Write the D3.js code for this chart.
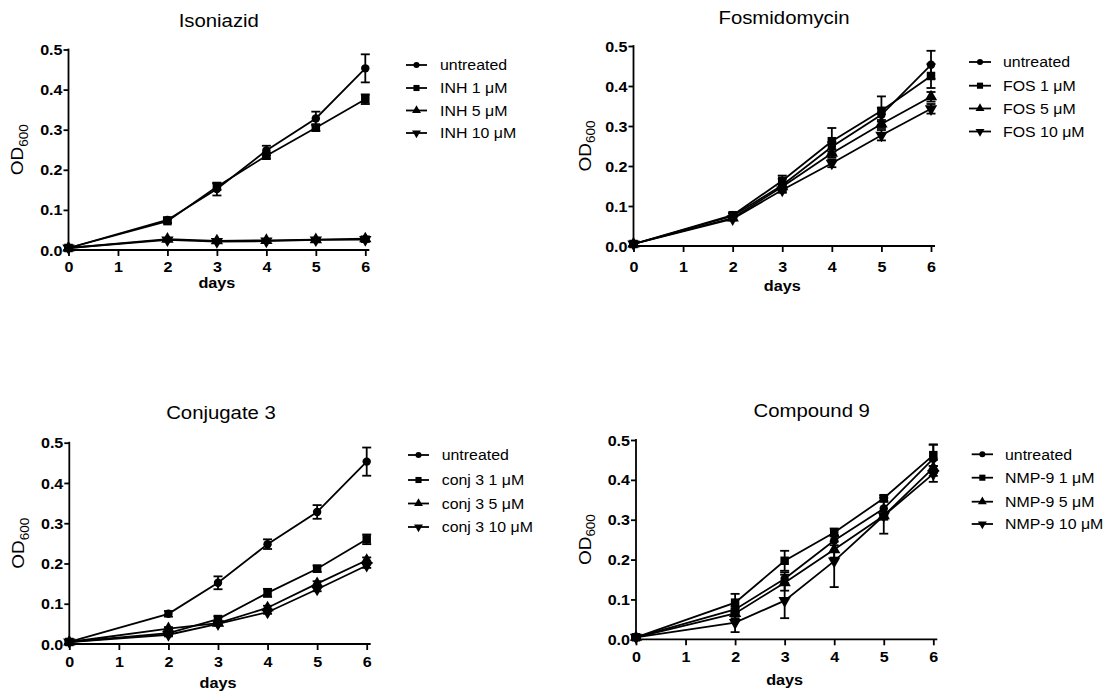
<!DOCTYPE html>
<html><head><meta charset="utf-8">
<script src="https://cdn.jsdelivr.net/npm/d3@7"></script>
<style>
body{margin:0;background:#fff}
svg{display:block}
text{font-family:"Liberation Sans",Arial,Helvetica,sans-serif;fill:#000}
</style>
</head><body>
<svg id="c" width="1113" height="693"></svg>
<script>
// ---------- data ----------
const days = [0, 2, 3, 4, 5, 6];
const xTicks = [0, 1, 2, 3, 4, 5, 6];
const yTicks = [0, 0.1, 0.2, 0.3, 0.4, 0.5];
const titles = ["Isoniazid", "Fosmidomycin", "Conjugate 3", "Compound 9"];
const xLabel = "days";

const untreated    = [0.005, 0.075, 0.152, 0.248, 0.328, 0.453];
const untreatedErr = [0.002, 0.007, 0.016, 0.012, 0.017, 0.035];

const inh1    = [0.005, 0.072, 0.158, 0.235, 0.305, 0.376];
const inh1Err = [0.002, 0.005, 0.008, 0.007, 0.008, 0.012];
const inh5    = [0.005, 0.027, 0.023, 0.024, 0.026, 0.028];
const inh5Err = [0.002, 0.003, 0.003, 0.003, 0.003, 0.006];
const inh10   = [0.005, 0.025, 0.021, 0.022, 0.025, 0.026];
const inh10Err= [0.002, 0.003, 0.003, 0.003, 0.003, 0.006];

const fos1    = [0.005, 0.077, 0.163, 0.262, 0.338, 0.425];
const fos1Err = [0.002, 0.005, 0.013, 0.033, 0.036, 0.030];
const fos5    = [0.005, 0.070, 0.148, 0.232, 0.305, 0.373];
const fos5Err = [0.002, 0.004, 0.008, 0.010, 0.010, 0.012];
const fos10   = [0.005, 0.068, 0.140, 0.207, 0.277, 0.343];
const fos10Err= [0.002, 0.004, 0.007, 0.010, 0.013, 0.012];

const conj1    = [0.005, 0.027, 0.062, 0.127, 0.187, 0.260];
const conj1Err = [0.002, 0.004, 0.007, 0.010, 0.008, 0.012];
const conj5    = [0.005, 0.038, 0.052, 0.090, 0.150, 0.208];
const conj5Err = [0.002, 0.004, 0.004, 0.005, 0.006, 0.007];
const conj10   = [0.005, 0.023, 0.050, 0.079, 0.136, 0.195];
const conj10Err= [0.002, 0.003, 0.004, 0.004, 0.005, 0.006];

const nmp1    = [0.005, 0.092, 0.197, 0.268, 0.354, 0.462];
const nmp1Err = [0.003, 0.022, 0.025, 0.010, 0.007, 0.027];
const nmp5    = [0.005, 0.065, 0.142, 0.225, 0.310, 0.430];
const nmp5Err = [0.002, 0.012, 0.020, 0.020, 0.010, 0.020];
const nmp10   = [0.005, 0.042, 0.097, 0.196, 0.310, 0.415];
const nmp10Err= [0.002, 0.024, 0.044, 0.065, 0.045, 0.020];

const legend1 = ["untreated", "INH 1 \u03bcM", "INH 5 \u03bcM", "INH 10 \u03bcM"];
const legend2 = ["untreated", "FOS 1 \u03bcM", "FOS 5 \u03bcM", "FOS 10 \u03bcM"];
const legend3 = ["untreated", "conj 3 1 \u03bcM", "conj 3 5 \u03bcM", "conj 3 10 \u03bcM"];
const legend4 = ["untreated", "NMP-9 1 \u03bcM", "NMP-9 5 \u03bcM", "NMP-9 10 \u03bcM"];

const markers = ["circle", "square", "triUp", "triDown"];

const panelSeries = [
  {vals:[untreated, inh1, inh5, inh10],   errs:[untreatedErr, inh1Err, inh5Err, inh10Err],   legend: legend1},
  {vals:[untreated, fos1, fos5, fos10],   errs:[untreatedErr, fos1Err, fos5Err, fos10Err],   legend: legend2},
  {vals:[untreated, conj1, conj5, conj10],errs:[untreatedErr, conj1Err, conj5Err, conj10Err],legend: legend3},
  {vals:[untreated, nmp1, nmp5, nmp10],   errs:[untreatedErr, nmp1Err, nmp5Err, nmp10Err],   legend: legend4}
];

// ---------- layout ----------
const layout = [
  {x0:68.5, x6:365.3, y0:250,   y5:49.5,  tx:218.8, ty:26.5,  tick:272, lab:287.5, odx:23,   lx1:406,   lx2:427, ltx:440,  rows:[65, 88, 110.5, 133]},
  {x0:633.5,x6:931,   y0:246,   y5:46,    tx:784,   ty:24,    tick:272, lab:291,   odx:590.5,lx1:969,   lx2:991, ltx:1003, rows:[62, 85.7, 108.5, 131.5]},
  {x0:69.3, x6:366.7, y0:644,   y5:442.7, tx:221,   ty:419,   tick:667, lab:687.5, odx:24,   lx1:408,   lx2:429, ltx:441.7,rows:[455, 480, 503.5, 527]},
  {x0:636,  x6:933.3, y0:639.3, y5:440,   tx:811.7, ty:416.7, tick:662, lab:684.5, odx:590.5,lx1:971.7, lx2:993, ltx:1005, rows:[454.3, 477.7, 501.7, 524]}
];

const svg = d3.select("#c");
const SW = 1.8;

function txt(parent, x, y, str, o) {
  const g = parent.append("g").attr("transform", `translate(${x},${y}) rotate(${o.rot || 0})`);
  return g.append("text")
    .attr("transform", `scale(${o.sx || 1},1)`)
    .attr("text-anchor", o.anchor || "start")
    .style("font-size", o.size + "px")
    .style("font-weight", o.weight || "normal")
    .text(str);
}

function symPath(type, big) {
  const s = big ? 1 : 0.72;
  if (type === "circle") return d3.symbol(d3.symbolCircle, 56 * s * s)();
  if (type === "square") return d3.symbol(d3.symbolSquare, 72 * s * s)();
  return d3.symbol(d3.symbolTriangle, 66 * s * s)();
}

layout.forEach((L, pi) => {
  const P = panelSeries[pi];
  const x = d3.scaleLinear().domain([0, 6]).range([L.x0, L.x6]);
  const y = d3.scaleLinear().domain([0, 0.5]).range([L.y0, L.y5]);
  const g = svg.append("g");
  const tsx = 1.15;

  // y axis
  const ya = g.append("g").attr("transform", `translate(${L.x0},0)`)
    .call(d3.axisLeft(y).tickValues(yTicks).tickFormat(d3.format(".1f")).tickSize(5).tickSizeOuter(0).tickPadding(1));
  ya.select(".domain").remove();
  ya.selectAll(".tick line").attr("stroke", "#000").attr("stroke-width", SW);
  ya.selectAll(".tick text")
    .attr("x", -6 / tsx).attr("dy", "0.36em")
    .attr("transform", `scale(${tsx},1)`)
    .style("font-size", "14px").style("font-weight", "bold").style("font-family", null);
  g.append("line").attr("x1", x(0)).attr("x2", x(0)).attr("y1", y(0.5) - 0.9).attr("y2", y(0))
    .attr("stroke", "#000").attr("stroke-width", SW);

  // x axis
  const xa = g.append("g").attr("transform", `translate(0,${L.y0})`)
    .call(d3.axisBottom(x).tickValues(xTicks).tickFormat(d3.format("d")).tickSize(6).tickSizeOuter(0));
  xa.select(".domain").remove();
  xa.selectAll(".tick line").attr("stroke", "#000").attr("stroke-width", SW);
  xa.selectAll(".tick text")
    .attr("x", 0).attr("y", L.tick - L.y0).attr("dy", 0)
    .attr("transform", `scale(${tsx},1)`)
    .style("font-size", "14px").style("font-weight", "bold").style("font-family", null);
  g.append("line").attr("x1", x(0) - 5).attr("x2", x(6) + 4).attr("y1", y(0)).attr("y2", y(0))
    .attr("stroke", "#000").attr("stroke-width", SW);

  // title & labels
  txt(g, L.tx, L.ty, titles[pi], {size: 18.5, anchor: "middle", sx: 1.1});
  txt(g, (L.x0 + L.x6) / 2, L.lab, xLabel, {size: 14.5, weight: "bold", anchor: "middle", sx: 1.12});
  const od = txt(g, L.odx, (L.y0 + L.y5) / 2, "", {size: 17, anchor: "middle", sx: 1.12, rot: -90});
  od.append("tspan").text("OD");
  od.append("tspan").attr("dy", 4.5).style("font-size", "12px").text("600");

  // series
  const line = d3.line().x((d, i) => x(days[i])).y(d => y(d));
  P.vals.forEach((vals, si) => {
    const errs = P.errs[si];
    const sg = g.append("g");
    sg.append("path").attr("d", line(vals)).attr("fill", "none").attr("stroke", "#000").attr("stroke-width", SW);
    vals.forEach((v, i) => {
      const cx = x(days[i]);
      const e = errs[i];
      sg.append("line").attr("x1", cx).attr("x2", cx).attr("y1", y(v - e)).attr("y2", y(v + e))
        .attr("stroke", "#000").attr("stroke-width", SW);
      [v - e, v + e].forEach(ev => sg.append("line").attr("x1", cx - 4.5).attr("x2", cx + 4.5)
        .attr("y1", y(ev)).attr("y2", y(ev)).attr("stroke", "#000").attr("stroke-width", SW));
      sg.append("path").attr("d", symPath(markers[si], true))
        .attr("transform", `translate(${cx},${y(v)})` + (markers[si] === "triDown" ? " rotate(180)" : ""))
        .attr("fill", "#000");
    });
  });

  // legend
  P.legend.forEach((lab, si) => {
    const ry = L.rows[si];
    g.append("line").attr("x1", L.lx1).attr("x2", L.lx2).attr("y1", ry).attr("y2", ry)
      .attr("stroke", "#000").attr("stroke-width", SW);
    g.append("path").attr("d", symPath(markers[si], false))
      .attr("transform", `translate(${(L.lx1 + L.lx2) / 2},${ry})` + (markers[si] === "triDown" ? " rotate(180)" : ""))
      .attr("fill", "#000");
    txt(g, L.ltx, ry + 5.3, lab, {size: 15, sx: 1.06});
  });
});
</script>
</body></html>
